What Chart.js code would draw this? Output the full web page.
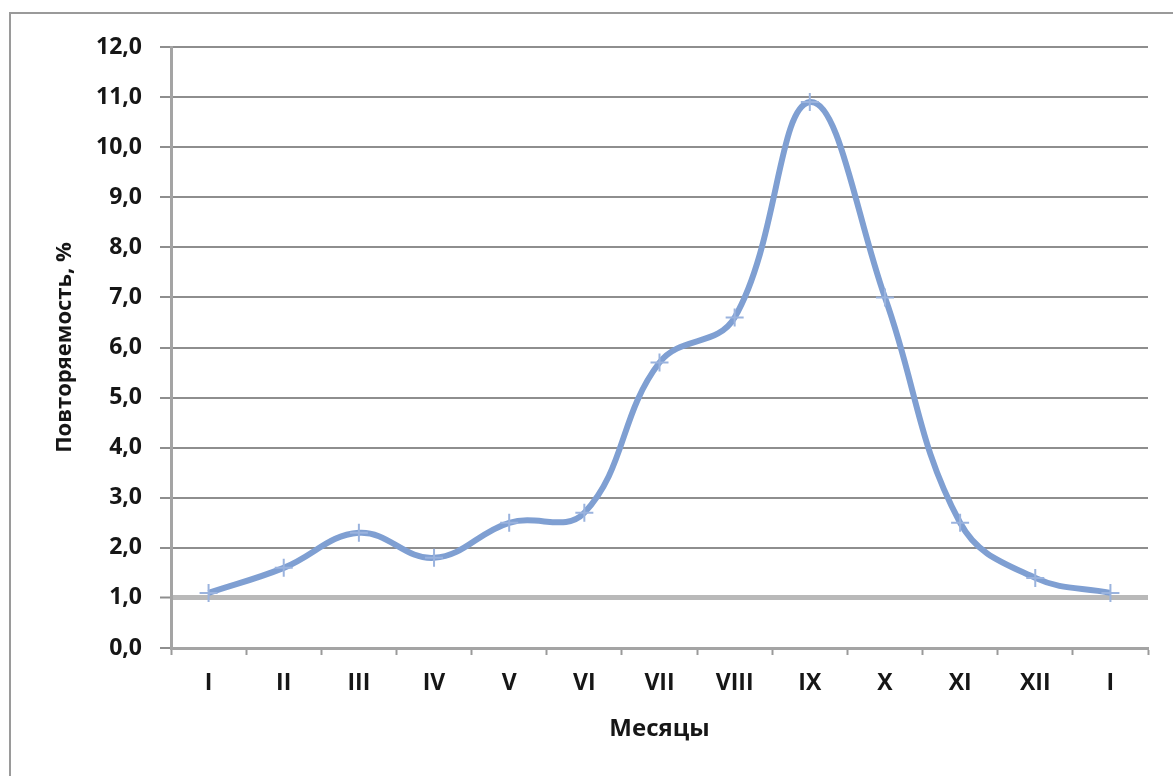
<!DOCTYPE html>
<html lang="ru">
<head>
<meta charset="utf-8">
<script src="https://cdn.jsdelivr.net/npm/chart.js@4.4.1/dist/chart.umd.min.js"></script>
<style>
  html, body { margin: 0; padding: 0; background: #fff; }
  #wrap { position: relative; width: 1173px; height: 776px; overflow: hidden; }
  #frame { position: absolute; left: 9px; top: 12px; width: 1200px; height: 820px;
           border: 2px solid #9a9a9a; box-sizing: border-box; }
  canvas { position: absolute; left: 0; top: 0; }
</style>
</head>
<body>
<div id="wrap">
  <div id="frame"></div>
  <canvas id="c" width="1173" height="776"></canvas>
</div>
<script>
// Months of the year (January repeated to close the cycle)
const months = ['I', 'II', 'III', 'IV', 'V', 'VI', 'VII', 'VIII', 'IX', 'X', 'XI', 'XII', 'I'];
// Repeatability, %
const repeatability = [1.1, 1.6, 2.3, 1.8, 2.5, 2.7, 5.7, 6.6, 10.9, 7.0, 2.5, 1.4, 1.1];
// Value axis range
const yMin = 0, yMax = 12, yStep = 1;

const lineColor = '#7f9fd2';
const textColor = '#161616';
const fontFamily = "'Open Sans', 'DejaVu Sans', sans-serif";

new Chart(document.getElementById('c'), {
  type: 'line',
  data: {
    labels: months,
    datasets: [{
      data: repeatability,
      borderColor: lineColor,
      borderWidth: 6,
      tension: 0.4,
      pointStyle: 'cross',
      pointRadius: 9,
      pointBorderWidth: 2,
      pointBorderColor: '#9ab3de',
      pointBackgroundColor: lineColor,
      fill: false
    }]
  },
  options: {
    responsive: false,
    animation: false,
    devicePixelRatio: 1,
    layout: { padding: { left: 0, top: 47, right: 25, bottom: 0 } },
    plugins: { legend: { display: false }, tooltip: { enabled: false } },
    scales: {
      x: {
        type: 'category',
        offset: true,
        afterFit: s => { s.height = 128; },
        grid: {
          offset: true,
          drawOnChartArea: false,
          tickLength: 7,
          tickWidth: 2,
          tickColor: '#9a9a9a'
        },
        border: { color: '#a4a4a4', width: 3 },
        ticks: {
          color: textColor,
          padding: 15,
          maxRotation: 0,
          autoSkip: false,
          font: { family: fontFamily, size: 23, weight: 'bold' }
        },
        title: {
          display: true,
          text: 'Месяцы',
          color: textColor,
          padding: { top: 0, bottom: 32 },
          font: { family: fontFamily, size: 24, weight: 'bold' }
        }
      },
      y: {
        min: yMin,
        max: yMax,
        afterFit: s => { s.width = 171; },
        grid: {
          color: ctx => (ctx.tick && ctx.tick.value === 1) ? '#b9b9b9' : '#8e8e8e',
          lineWidth: ctx => (ctx.tick && ctx.tick.value === 1) ? 5 : 2,
          tickLength: 11,
          tickColor: '#8e8e8e',
          tickWidth: 2
        },
        border: { color: '#a4a4a4', width: 3 },
        ticks: {
          stepSize: yStep,
          color: textColor,
          padding: 18,
          font: { family: fontFamily, size: 23, weight: 'bold' },
          callback: v => Number(v).toFixed(1).replace('.', ',')
        },
        title: {
          display: true,
          text: 'Повторяемость, %',
          color: textColor,
          padding: { top: 52, bottom: 0 },
          font: { family: fontFamily, size: 22, weight: 'bold' }
        }
      }
    }
  }
});
</script>
</body>
</html>
